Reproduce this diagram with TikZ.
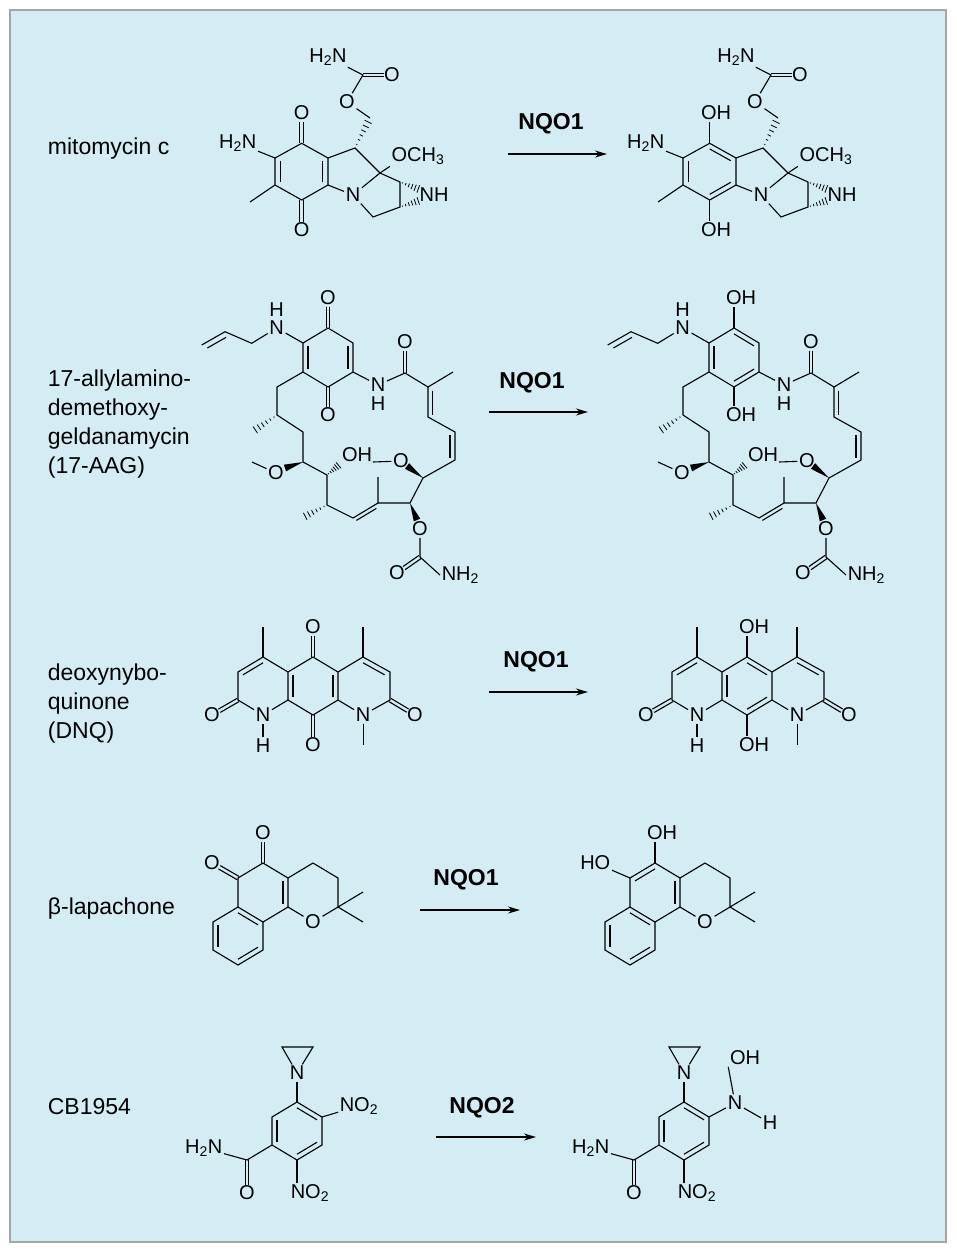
\documentclass[tikz,border=0pt]{standalone}
\usepackage{fontspec}
\setmainfont{Liberation Sans}
\usetikzlibrary{calc,arrows.meta}
\definecolor{bgc}{HTML}{D4ECF3}
\tikzset{
 atm/.style={font=\fontsize{20}{20}\selectfont,inner sep=1.2pt},
 lab/.style={font=\fontsize{23}{29}\selectfont,align=left,anchor=west},
 enz/.style={font=\bfseries\fontsize{23}{23}\selectfont},
 rx/.style={line width=1.2pt,-{Stealth[length=12pt,width=7pt]}},
 every path/.style={line width=1.1pt}
}
\newcommand\inb[3]{\draw ($(#1)!0.2!(#3)$) -- ($(#2)!0.2!(#3)$);}
\newcommand\dbo[2]{\draw[shorten >=8.5pt] ($(#1)!1.9pt!90:(#2)$) -- ($(#2)!1.9pt!-90:(#1)$);
 \draw[shorten >=8.5pt] ($(#1)!1.9pt!-90:(#2)$) -- ($(#2)!1.9pt!90:(#1)$);}
\newcommand\hashb[2]{\foreach \t in {0.12,0.27,0.42,0.57,0.72,0.87,1.0}{\draw[line width=0.8pt] ($(#1)!\t!(#2)!{\t*4.5pt}!90:(#2)$) -- ($(#1)!\t!(#2)!{\t*4.5pt}!-90:(#2)$);}}
\newcommand\wedgeb[2]{\fill (#1) -- ($(#2)!3.5pt!90:(#1)$) -- ($(#2)!3.5pt!-90:(#1)$) -- cycle;}
% mitomycin skeleton
\newcommand\mitocore{%
 \coordinate (a1) at (301.7,143.3); \coordinate (a2) at (275,158); \coordinate (a3) at (275,185);
 \coordinate (a4) at (301.7,200); \coordinate (a5) at (328,185); \coordinate (a6) at (328,158);
 \coordinate (ac) at (301.7,171.5);
 \coordinate (a9) at (355,148); \coordinate (a9a) at (380,173); \coordinate (aaz1) at (400,182);
 \coordinate (aaz2) at (400,207); \coordinate (ach2) at (373,217); \coordinate (ame) at (250,202);
 \coordinate (ac10) at (370,118); \coordinate (acc) at (363,75);
 \coordinate (ah1) at (421,190); \coordinate (ah2) at (421,200);
 \node[atm] (aN) at (353,195) {N};
 \node[atm] (aOMe) at (418,156) {OCH\textsubscript{3}};
 \node[atm] (aNH) at (434,195) {NH};
 \node[atm,anchor=east] (aNH2) at (258,143) {H\textsubscript{2}N};
 \node[atm] (aO3) at (347,102) {O};
 \node[atm] (aOc) at (392,75) {O};
 \node[atm] (aNc) at (328,57) {H\textsubscript{2}N};
 \draw (a1)--(a2)--(a3)--(a4)--(a5)--(a6)--cycle;
 \inb{a2}{a3}{ac}
 \draw (a2)--(aNH2); \draw (a3)--(ame);
 \draw (a6)--(a9)--(a9a)--(aN)--(a5);
 \draw (a9a)--(aaz1)--(aaz2)--(ach2)--(aN);
 \draw (a9a)--(aOMe.south west);
 \hashb{a9}{ac10}
 \draw (ac10)--(aO3)--(acc)--(aNc); \dbo{acc}{aOc}
 \hashb{aaz1}{ah1} \hashb{aaz2}{ah2}
}
% 17-AAG skeleton
\newcommand\aagcore{%
 \coordinate (g1) at (201.7,345); \coordinate (g2) at (225,331.7); \coordinate (g3) at (251.7,343.3);
 \coordinate (gx) at (230,360);
 \node[atm] (gN) at (276.7,328) {N}; \node[atm] (gH) at (276.7,310) {H};
 \coordinate (r1) at (328,328); \coordinate (r2) at (353,343); \coordinate (r3) at (353,372);
 \coordinate (r4) at (328,387); \coordinate (r5) at (303,372); \coordinate (r6) at (303,343);
 \coordinate (rc) at (328,357.5);
 \draw (g1)--(g2)--(g3)--(gN)--(r6);
 \inb{g1}{g2}{gx}
 \draw (r1)--(r2)--(r3)--(r4)--(r5)--(r6)--cycle;
 \node[atm] (aN2) at (378,385) {N}; \node[atm] (aH2) at (378,404) {H};
 \coordinate (amc) at (405,373); \node[atm] (amO) at (405,342) {O};
 \coordinate (c2) at (428,387); \coordinate (c2m) at (453,372);
 \coordinate (c3) at (428,417); \coordinate (c4) at (455,432); \coordinate (c5) at (455,460);
 \coordinate (c6) at (423,478); \coordinate (c7) at (410,503); \coordinate (c9) at (378,503);
 \coordinate (c9m) at (378,477); \coordinate (c10) at (353,518); \coordinate (c11) at (327,505);
 \coordinate (c11m) at (302,518); \coordinate (c12) at (327,475); \coordinate (c13) at (303,462);
 \coordinate (c14) at (303,432); \coordinate (c15) at (277,415); \coordinate (c15m) at (252,432);
 \coordinate (c16) at (277,387);
 \coordinate (c2x) at (450,405); \coordinate (c4x) at (430,448); \coordinate (c9x) at (370,530);
 \draw (r3)--(aN2)--(amc)--(c2)--(c2m); \dbo{amc}{amO}
 \draw (c2)--(c3)--(c4)--(c5)--(c6)--(c7)--(c9)--(c9m);
 \inb{c2}{c3}{c2x} \inb{c4}{c5}{c4x}
 \draw (c9)--(c10)--(c11)--(c12)--(c13)--(c14)--(c15)--(c16)--(r5);
 \inb{c9}{c10}{c9x}
 \node[atm] (o6) at (401,461) {O}; \coordinate (o6w) at (407,466);
 \wedgeb{c6}{o6w} \coordinate (o6m) at (373,462); \draw (o6)--(o6m);
 \node[atm] (o7) at (420,529) {O}; \coordinate (o7w) at (417,520);
 \wedgeb{c7}{o7w}
 \coordinate (c8) at (420,557); \node[atm] (o8) at (397,573) {O};
 \node[atm,anchor=west] (n8) at (440,575) {NH\textsubscript{2}};
 \draw (o7)--(c8)--(n8.west); \dbo{c8}{o8}
 \hashb{c11}{c11m}
 \node[atm] (oh12) at (357,455) {OH}; \hashb{c12}{oh12.south west}
 \node[atm] (o13) at (276,473) {O}; \coordinate (o13w) at (285,468);
 \wedgeb{c13}{o13w} \coordinate (o13m) at (252,462); \draw (o13)--(o13m);
 \hashb{c15}{c15m}
}
% DNQ skeleton
\newcommand\dnqcore{%
 \coordinate (t) at (313,657); \coordinate (ur) at (338,672); \coordinate (lr) at (338,700);
 \coordinate (b) at (313,715); \coordinate (ll) at (288,700); \coordinate (ul) at (288,672);
 \coordinate (dc) at (313,686); \coordinate (lc) at (263,686); \coordinate (rc2) at (363,686);
 \coordinate (L1) at (263,657); \coordinate (L2) at (238,672); \coordinate (L3) at (238,700);
 \coordinate (R1) at (363,657); \coordinate (R2) at (390,672); \coordinate (R3) at (390,700);
 \coordinate (meL) at (263,627); \coordinate (meR) at (363,627); \coordinate (dmeR) at (363,745);
 \node[atm] (dNL) at (263,715) {N}; \node[atm] (dHL) at (263,746) {H};
 \node[atm] (dNR) at (363,715) {N};
 \node[atm] (dOL) at (212,715) {O}; \node[atm] (dOR) at (415,715) {O};
 \draw (t)--(ur)--(lr)--(b)--(ll)--(ul)--cycle;
 \draw (ul)--(L1)--(L2)--(L3)--(dNL)--(ll); \draw (ur)--(R1)--(R2)--(R3)--(dNR)--(lr);
 \draw (L1)--(meL); \draw (R1)--(meR); \draw (dNL)--(dHL); \draw[line width=0.7pt] (dNR)--(dmeR);
 \dbo{L3}{dOL} \dbo{R3}{dOR}
 \inb{L1}{L2}{lc} \inb{R1}{R2}{rc2} \inb{ul}{ll}{dc}
}
% beta-lapachone skeleton
\newcommand\lapcore{%
 \coordinate (q1) at (263,863); \coordinate (q2) at (288,878); \coordinate (q3) at (288,907);
 \coordinate (q4) at (263,922); \coordinate (q5) at (238,907); \coordinate (q6) at (238,878);
 \coordinate (p2) at (213,922); \coordinate (p3) at (213,950); \coordinate (p4) at (238,965);
 \coordinate (p5) at (263,950); \coordinate (y1) at (313,863); \coordinate (y2) at (338,878);
 \coordinate (y3) at (338,907); \coordinate (me1) at (363,892); \coordinate (me2) at (363,922);
 \coordinate (qc) at (263,892.5); \coordinate (pc) at (238,936);
 \node[atm] (lO) at (313,922) {O};
 \draw (q1)--(q2)--(q3)--(q4)--(q5)--(q6)--cycle;
 \draw (q5)--(p2)--(p3)--(p4)--(p5)--(q4);
 \draw (q2)--(y1)--(y2)--(y3)--(lO)--(q3); \draw (me1)--(y3)--(me2);
 \inb{q2}{q3}{qc} \inb{p2}{p3}{pc} \inb{p4}{p5}{pc} \inb{q4}{q5}{pc}
}
% CB1954 skeleton
\newcommand\cbcore{%
 \node[atm] (zN) at (297,1073) {N};
 \coordinate (z1) at (282,1047); \coordinate (z2) at (313,1047);
 \coordinate (k1) at (297,1102); \coordinate (k2) at (322,1117); \coordinate (k3) at (322,1145);
 \coordinate (k4) at (297,1160); \coordinate (k5) at (272,1145); \coordinate (k6) at (272,1117);
 \coordinate (kc) at (297,1131);
 \draw (zN)--(z1)--(z2)--(zN); \draw (zN)--(k1);
 \draw (k1)--(k2)--(k3)--(k4)--(k5)--(k6)--cycle;
 \inb{k1}{k2}{kc} \inb{k3}{k4}{kc} \inb{k5}{k6}{kc}
 \node[atm,anchor=west] (kN2) at (289,1193) {NO\textsubscript{2}};
 \draw (k4)--(kN2.north west -| k4);
 \coordinate (kam) at (247,1160); \node[atm] (kO) at (247,1193) {O};
 \node[atm,anchor=east] (kH2N) at (224,1148) {H\textsubscript{2}N};
 \draw (k5)--(kam)--(kH2N); \dbo{kam}{kO}
}
\begin{document}
\begin{tikzpicture}[x=1pt,y=-1pt]
\useasboundingbox (0,0) rectangle (957,1254);
\fill[white] (0,0) rectangle (957,1254);
\draw[fill=bgc,draw=black!35,line width=1.2pt] (10,10) rectangle (946,1242);
% labels
\node[lab] (L1t) at (44,149) {mitomycin c};
\node[lab] (L2t) at (44,424) {17-allylamino-\\demethoxy-\\geldanamycin\\(17-AAG)};
\node[lab] (L3t) at (44,704) {deoxynybo-\\quinone\\(DNQ)};
\node[lab] (L4t) at (44,909) {β-lapachone};
\node[lab] (L5t) at (44,1107) {CB1954};
% arrows
\coordinate (s1) at (508,154); \coordinate (e1) at (607,154); \draw[rx] (s1)--(e1);
\node[enz] (n1) at (551,124) {NQO1};
\coordinate (s2) at (489,412); \coordinate (e2) at (588,412); \draw[rx] (s2)--(e2);
\node[enz] (n2) at (532,383) {NQO1};
\coordinate (s3) at (489,692); \coordinate (e3) at (588,692); \draw[rx] (s3)--(e3);
\node[enz] (n3) at (536,662) {NQO1};
\coordinate (s4) at (420,910); \coordinate (e4) at (520,910); \draw[rx] (s4)--(e4);
\node[enz] (n4) at (466,880) {NQO1};
\coordinate (s5) at (436,1137); \coordinate (e5) at (536,1137); \draw[rx] (s5)--(e5);
\node[enz] (n5) at (482,1108) {NQO2};
% mitomycin
\begin{scope}
 \mitocore
 \node[atm] (aO1) at (301.7,113) {O}; \node[atm] (aO2) at (301.7,230) {O};
 \dbo{a1}{aO1} \dbo{a4}{aO2} \inb{a5}{a6}{ac}
\end{scope}
\begin{scope}[xshift=408pt]
 \mitocore
 \node[atm] (bO1) at (308,113) {OH}; \node[atm] (bO2) at (308,230) {OH};
 \draw (a1)--(bO1.south west -| a1); \draw (a4)--(bO2.north west -| a4);
 \inb{a4}{a5}{ac} \inb{a6}{a1}{ac}
\end{scope}
% 17-AAG
\begin{scope}
 \aagcore
 \node[atm] (rO1) at (328,298) {O}; \node[atm] (rO4) at (328,415) {O};
 \dbo{r1}{rO1} \dbo{r4}{rO4}
 \inb{r2}{r3}{rc} \inb{r5}{r6}{rc}
\end{scope}
\begin{scope}[xshift=406pt]
 \aagcore
 \node[atm] (rO1) at (335,298) {OH}; \node[atm] (rO4) at (335,415) {OH};
 \draw (r1)--(rO1.south west -| r1); \draw (r4)--(rO4.north west -| r4);
 \inb{r1}{r2}{rc} \inb{r3}{r4}{rc} \inb{r5}{r6}{rc}
\end{scope}
% DNQ
\begin{scope}
 \dnqcore
 \node[atm] (dOt) at (313,627) {O}; \node[atm] (dOb) at (313,745) {O};
 \dbo{t}{dOt} \dbo{b}{dOb} \inb{ur}{lr}{dc}
\end{scope}
\begin{scope}[xshift=434pt]
 \dnqcore
 \node[atm] (dOt) at (320,627) {OH}; \node[atm] (dOb) at (320,745) {OH};
 \draw (t)--(dOt.south west -| t); \draw (b)--(dOb.north west -| b);
 \inb{t}{ur}{dc} \inb{lr}{b}{dc}
\end{scope}
% beta-lapachone
\begin{scope}
 \lapcore
 \node[atm] (lO1) at (263,833) {O}; \node[atm] (lO2) at (212,863) {O};
 \dbo{q1}{lO1} \dbo{q6}{lO2}
\end{scope}
\begin{scope}[xshift=392pt]
 \lapcore
 \node[atm] (lO1) at (270,833) {OH}; \node[atm,anchor=east] (lO2) at (220,863) {HO};
 \draw (q1)--(lO1.south west -| q1); \draw (q6)--(lO2);
 \inb{q6}{q1}{qc}
\end{scope}
% CB1954
\begin{scope}
 \cbcore
 \node[atm,anchor=west] (kN1) at (338,1106) {NO\textsubscript{2}};
 \draw (k2)--(kN1);
\end{scope}
\begin{scope}[xshift=387pt]
 \cbcore
 \node[atm] (hN) at (348,1103) {N};
 \node[atm] (hO) at (358,1058) {OH}; \node[atm] (hH) at (383,1123) {H};
 \draw (k2)--(hN); \draw (hN)--(hO.south west); \draw (hN)--(hH);
\end{scope}
\end{tikzpicture}
\end{document}
